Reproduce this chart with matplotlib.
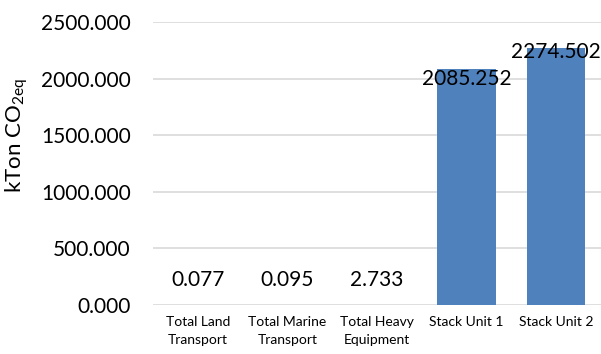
import matplotlib
matplotlib.use("Agg")
import matplotlib.pyplot as plt

categories = ["Total Land\nTransport", "Total Marine\nTransport", "Total Heavy\nEquipment", "Stack Unit 1", "Stack Unit 2"]
values = [0.077, 0.095, 2.733, 2085.252, 2274.502]
value_labels = ["0.077", "0.095", "2.733", "2085.252", "2274.502"]
yticks = [0, 500, 1000, 1500, 2000, 2500]

plt.rcParams['font.family'] = ['Lato', 'DejaVu Sans']
plt.rcParams['mathtext.fontset'] = 'custom'
plt.rcParams['mathtext.rm'] = 'Lato'

W, H = 601, 354
fig = plt.figure(figsize=(W/100, H/100), dpi=100)
ax = fig.add_axes([153/W, 1-305/H, (601-153)/W, (305-22)/H])

x = list(range(len(categories)))
ax.bar(x, values, width=0.65, color="#4f81bd", zorder=3)
ax.set_xlim(-0.5, len(categories)-0.5)
ax.set_ylim(0, 2500)
ax.set_yticks(yticks)
ax.set_yticklabels([f"{v:.3f}" for v in yticks], fontsize=15)
ax.set_xticks(x)
ax.set_xticklabels(categories, fontsize=10, linespacing=1.55)
ax.tick_params(axis='both', length=0)
ax.tick_params(axis='x', pad=8)
ax.tick_params(axis='y', pad=16)
ax.grid(axis='y', color='#d9d9d9', lw=1.2, zorder=0)
for s in ax.spines.values():
    s.set_visible(False)

for xi, v, lab in zip(x, values, value_labels):
    if v < 500:
        yy = v + 220
    else:
        yy = v - 90 if xi == 3 else v - 40
    ax.text(xi, yy, lab, ha='center', va='center', fontsize=15, zorder=4)

fig.text(17/W, 1-136/H, r'kTon CO$_{\mathregular{2eq}}$', rotation=90, ha='center', va='center', fontsize=16)

fig.savefig("out.png", dpi=100)
